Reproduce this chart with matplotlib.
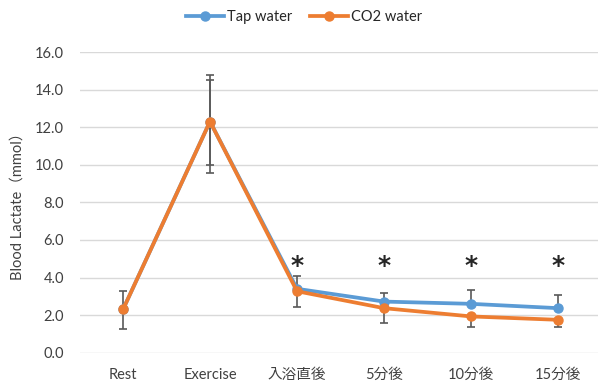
import matplotlib
matplotlib.use("Agg")
import matplotlib.pyplot as plt
import numpy as np

plt.rcParams['font.family'] = ['Lato', 'Noto Sans CJK JP', 'DejaVu Sans']

categories = ["Rest", "Exercise", "入浴直後", "5分後", "10分後", "15分後"]
tap = [2.3, 12.3, 3.4, 2.72, 2.6, 2.37]
co2 = [2.3, 12.3, 3.27, 2.37, 1.93, 1.75]
tap_err_lo = [0.0, 2.3, 0.0, 0.0, 0.0, 0.0]
tap_err_hi = [1.0, 2.5, 0.7, 0.47, 0.73, 0.7]
co2_err_lo = [1.05, 2.75, 0.83, 0.8, 0.57, 0.39]
co2_err_hi = [0.0, 2.2, 0.0, 0.0, 0.0, 0.0]
star_idx = [2, 3, 4, 5]
star_y = 4.6
yticks = [0, 2, 4, 6, 8, 10, 12, 14, 16]

blue = "#5B9BD5"
orange = "#ED7D31"
errc = "#595959"

fig = plt.figure(figsize=(5.98, 3.89), dpi=100)
ax = fig.add_axes([79.5/598, 1-352.7/389, 522/598, (352.7-52)/389])
x = np.arange(len(categories))

ax.errorbar(x, tap, yerr=[tap_err_lo, tap_err_hi], fmt='none', ecolor=errc,
            elinewidth=1.2, capsize=3, capthick=1.2, zorder=2)
ax.errorbar(x, co2, yerr=[co2_err_lo, co2_err_hi], fmt='none', ecolor=errc,
            elinewidth=1.2, capsize=3, capthick=1.2, zorder=2)
ax.plot(x, tap, color=blue, lw=2.7, marker='o', ms=6.5, label="Tap water", zorder=3)
ax.plot(x, co2, color=orange, lw=2.7, marker='o', ms=6.5, label="CO2 water", zorder=4)

for i in star_idx:
    ax.text(x[i], star_y, "*", ha='center', va='center', fontsize=18,
            fontweight='bold', color='#262626', family='DejaVu Sans')

ax.set_xlim(-0.5, len(categories) - 0.5)
ax.set_ylim(0, 16)
ax.set_yticks(yticks)
ax.set_yticklabels([f"{v:.1f}" for v in yticks])
ax.set_xticks(x)
ax.set_xticklabels(categories)
ax.grid(axis='y', color='#D9D9D9', lw=1)
ax.set_axisbelow(True)
for s in ax.spines.values():
    s.set_visible(False)
ax.tick_params(axis='both', length=0, labelsize=10.5, colors='#404040')
ax.tick_params(axis='y', pad=11)
ax.tick_params(axis='x', pad=11)
ax.set_ylabel("Blood Lactate（mmol）", fontsize=10.5, color='#404040', labelpad=8)

leg = fig.legend(loc='center', bbox_to_anchor=(304/598, 1-17/389), ncol=2,
                 frameon=False, fontsize=10.5, handlelength=2.6, columnspacing=1.2,
                 handletextpad=0.2)
for t in leg.get_texts():
    t.set_color('#262626')

fig.savefig("out.png", dpi=100)
